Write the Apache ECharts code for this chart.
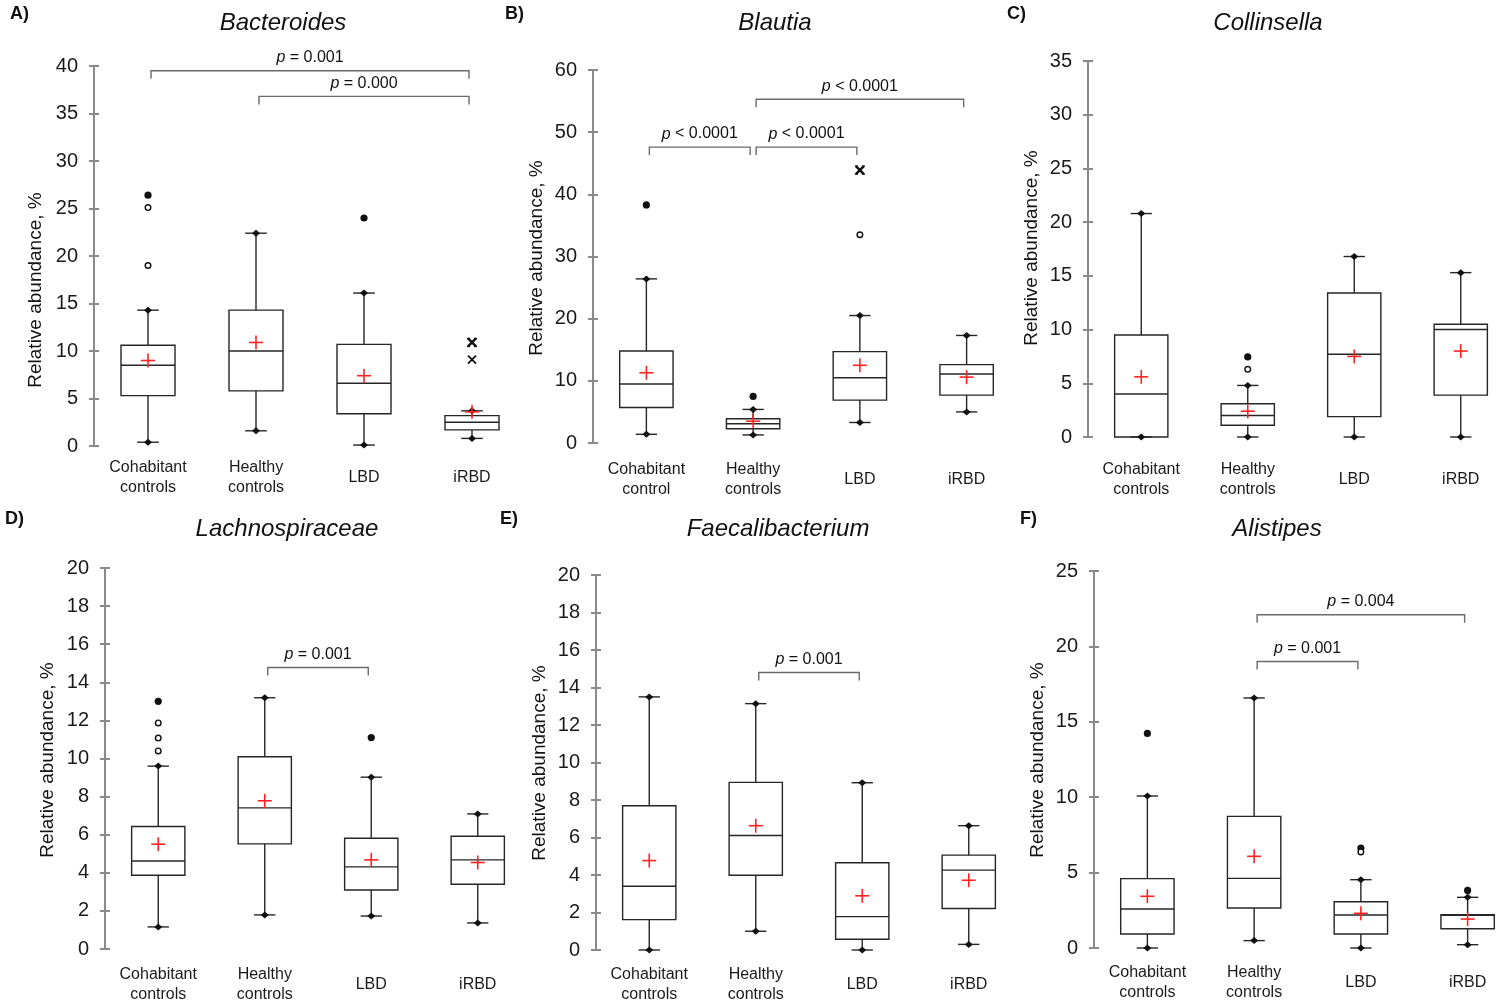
<!DOCTYPE html>
<html>
<head>
<meta charset="utf-8">
<title>Relative abundance by group</title>
<script src="https://cdn.jsdelivr.net/npm/echarts@6/dist/echarts.min.js"></script>
<style>
html,body{margin:0;padding:0;background:#fff;}
#chart{width:1500px;height:1008px;}
</style>
</head>
<body>
<div id="chart"></div>
<script>
var FONT = '"Liberation Sans", Arial, Helvetica, sans-serif';

var groupNames = ['Cohabitant\ncontrols', 'Healthy\ncontrols', 'LBD', 'iRBD'];
var groupNamesB = ['Cohabitant\ncontrol', 'Healthy\ncontrols', 'LBD', 'iRBD'];

// box stats per group: [low whisker, Q1, median, Q3, high whisker, mean]
// outliers: [group, value, kind]
// brackets: [from group, to group, y, operator, p value]

var bacteroidesStats = [
	[0.4, 5.3, 8.5, 10.6, 14.3, 9.0],
	[1.6, 5.8, 10.0, 14.3, 22.4, 10.9],
	[0.1, 3.4, 6.6, 10.7, 16.1, 7.4],
	[0.8, 1.7, 2.5, 3.2, 3.7, 3.6]
];
var bacteroidesOutliers = [[0, 26.4, 'filled'], [0, 25.1, 'open'], [0, 19.0, 'open'], [2, 24.0, 'filled'], [3, 10.9, 'star'], [3, 9.1, 'cross']];
var bacteroidesP = [[0, 3, 39.5, '=', '0.001'], [1, 3, 36.8, '=', '0.000']];

var blautiaStats = [
	[1.4, 5.7, 9.5, 14.8, 26.4, 11.3],
	[1.3, 2.3, 3.1, 3.9, 5.4, 3.5],
	[3.3, 6.9, 10.5, 14.7, 20.5, 12.5],
	[5.0, 7.7, 11.1, 12.6, 17.3, 10.6]
];
var blautiaOutliers = [[0, 38.3, 'filled'], [1, 7.5, 'filled'], [2, 43.9, 'star'], [2, 33.5, 'open']];
var blautiaP = [[0, 1, 47.6, '<', '0.0001'], [1, 2, 47.6, '<', '0.0001'], [1, 3, 55.3, '<', '0.0001']];

var collinsellaStats = [
	[0, 0, 4.0, 9.5, 20.8, 5.6],
	[0, 1.1, 2.0, 3.1, 4.8, 2.4],
	[0, 1.9, 7.7, 13.4, 16.8, 7.5],
	[0, 3.9, 10.0, 10.5, 15.3, 8.0]
];
var collinsellaOutliers = [[1, 7.45, 'filled'], [1, 6.3, 'open']];
var collinsellaP = [];

var lachnoStats = [
	[1.16, 3.87, 4.62, 6.43, 9.6, 5.5],
	[1.79, 5.52, 7.41, 10.09, 13.19, 7.78],
	[1.73, 3.1, 4.31, 5.81, 9.02, 4.68],
	[1.37, 3.4, 4.68, 5.92, 7.09, 4.54]
];
var lachnoOutliers = [[0, 13.0, 'filled'], [0, 11.87, 'open'], [0, 11.07, 'open'], [0, 10.4, 'open'], [2, 11.1, 'filled']];
var lachnoP = [[1, 2, 14.78, '=', '0.001']];

var faecaliStats = [
	[0, 1.62, 3.4, 7.69, 13.5, 4.77],
	[1.0, 3.99, 6.11, 8.94, 13.14, 6.63],
	[0, 0.57, 1.78, 4.65, 8.92, 2.89],
	[0.3, 2.21, 4.26, 5.06, 6.63, 3.72]
];
var faecaliOutliers = [];
var faecaliP = [[1, 2, 14.8, '=', '0.001']];

var alistipesStats = [
	[0, 0.93, 2.59, 4.6, 10.08, 3.43],
	[0.49, 2.65, 4.62, 8.73, 16.58, 6.08],
	[0, 0.93, 2.19, 3.07, 4.53, 2.3],
	[0.22, 1.28, 2.17, 2.21, 3.36, 1.92]
];
var alistipesOutliers = [[0, 14.23, 'filled'], [2, 6.63, 'filled'], [2, 6.37, 'open'], [3, 3.82, 'filled']];
var alistipesP = [[1, 3, 22.1, '=', '0.004'], [1, 2, 19.0, '=', '0.001']];

var kindCode = {filled: 0, open: 1, star: 2, cross: 3};

var panels = [
	{letter: 'A)', title: 'Bacteroides', cats: groupNames, stats: bacteroidesStats, outliers: bacteroidesOutliers, brackets: bacteroidesP,
		max: 40, step: 5, grid: [94, 66, 432, 380], letterPos: [10, 15], titlePos: [283, 23], namePos: [36, 290], labelMargin: 32},
	{letter: 'B)', title: 'Blautia', cats: groupNamesB, stats: blautiaStats, outliers: blautiaOutliers, brackets: blautiaP,
		max: 60, step: 10, grid: [593, 70, 427, 373], letterPos: [505, 15], titlePos: [775, 23], namePos: [537, 258], labelMargin: 37},
	{letter: 'C)', title: 'Collinsella', cats: groupNames, stats: collinsellaStats, outliers: collinsellaOutliers, brackets: collinsellaP,
		max: 35, step: 5, grid: [1088, 61, 426, 376], letterPos: [1007, 15], titlePos: [1268, 23], namePos: [1032, 248], labelMargin: 43},
	{letter: 'D)', title: 'Lachnospiraceae', cats: groupNames, stats: lachnoStats, outliers: lachnoOutliers, brackets: lachnoP,
		max: 20, step: 2, grid: [105, 568, 426, 381], letterPos: [5, 520], titlePos: [287, 529], namePos: [48, 760], labelMargin: 36},
	{letter: 'E)', title: 'Faecalibacterium', cats: groupNames, stats: faecaliStats, outliers: faecaliOutliers, brackets: faecaliP,
		max: 20, step: 2, grid: [596, 575, 426, 375], letterPos: [500, 520], titlePos: [778, 529], namePos: [540, 763], labelMargin: 35},
	{letter: 'F)', title: 'Alistipes', cats: groupNames, stats: alistipesStats, outliers: alistipesOutliers, brackets: alistipesP,
		max: 25, step: 5, grid: [1094, 571, 427, 377], letterPos: [1020, 520], titlePos: [1277, 529], namePos: [1038, 760], labelMargin: 35}
];

function seg(x1, y1, x2, y2, st) {
	return {type: 'line', shape: {x1: x1, y1: y1, x2: x2, y2: y2}, style: st};
}

function boxItem(params, api) {
	var idx = api.value(0);
	var low = api.coord([idx, api.value(1)]);
	var q1 = api.coord([idx, api.value(2)]);
	var med = api.coord([idx, api.value(3)]);
	var q3 = api.coord([idx, api.value(4)]);
	var high = api.coord([idx, api.value(5)]);
	var mean = api.coord([idx, api.value(6)]);
	var band = api.size([1, 0])[0];
	var cx = low[0], hw = band * 0.25, cw = band * 0.1;
	var ln = {stroke: '#262626', lineWidth: 1.4};
	var red = {stroke: '#ff2222', lineWidth: 1.6};
	function diamond(y) {
		return {type: 'polygon', shape: {points: [[cx, y - 3.5], [cx + 4, y], [cx, y + 3.5], [cx - 4, y]]}, style: {fill: '#111'}};
	}
	return {type: 'group', children: [
		seg(cx, q3[1], cx, high[1], ln),
		seg(cx, q1[1], cx, low[1], ln),
		seg(cx - cw, high[1], cx + cw, high[1], ln),
		seg(cx - cw, low[1], cx + cw, low[1], ln),
		{type: 'rect', shape: {x: cx - hw, y: q3[1], width: 2 * hw, height: q1[1] - q3[1]}, style: {fill: 'none', stroke: '#262626', lineWidth: 1.4}},
		seg(cx - hw, med[1], cx + hw, med[1], ln),
		diamond(high[1]),
		diamond(low[1]),
		seg(cx - 7, mean[1], cx + 7, mean[1], red),
		seg(cx, mean[1] - 7, cx, mean[1] + 7, red)
	]};
}

function outlierItem(params, api) {
	var p = api.coord([api.value(0), api.value(1)]);
	var k = api.value(2);
	var x = p[0], y = p[1];
	if (k === 0) return {type: 'circle', shape: {cx: x, cy: y, r: 3.6}, style: {fill: '#111'}};
	if (k === 1) return {type: 'circle', shape: {cx: x, cy: y, r: 2.8}, style: {fill: '#fff', stroke: '#111', lineWidth: 1.4}};
	var st = {stroke: '#111', lineWidth: k === 2 ? 2.4 : 1.8};
	var kids = [seg(x - 4, y - 4, x + 4, y + 4, st), seg(x - 4, y + 4, x + 4, y - 4, st)];
	if (k === 2) {
		var thin = {stroke: '#111', lineWidth: 1.4};
		kids.push(seg(x - 5, y - 4, x - 2, y - 4, thin));
		kids.push(seg(x + 2, y - 4, x + 5, y - 4, thin));
		kids.push(seg(x - 5, y + 4, x - 2, y + 4, thin));
		kids.push(seg(x + 2, y + 4, x + 5, y + 4, thin));
	}
	return {type: 'group', children: kids};
}

function bracketItem(labels) {
	return function (params, api) {
		var a = api.coord([api.value(0), api.value(1)]);
		var b = api.coord([api.value(2), api.value(1)]);
		var x1 = a[0] + 3, x2 = b[0] - 3, y = a[1];
		var lab = labels[params.dataIndex];
		return {type: 'group', children: [
			{type: 'polyline', shape: {points: [[x1, y + 8], [x1, y], [x2, y], [x2, y + 8]]}, style: {stroke: '#6b6b6b', lineWidth: 1.4, fill: 'none'}},
			{type: 'text', x: (x1 + x2) / 2, y: y - 13, style: {
				text: '{i|p} ' + lab[0] + ' ' + lab[1],
				fill: '#111', fontSize: 16, fontFamily: FONT,
				align: 'center', verticalAlign: 'middle', textAlign: 'center', textVerticalAlign: 'middle',
				rich: {i: {fontStyle: 'italic', fontSize: 16, fontFamily: FONT, fill: '#111'}}
			}}
		]};
	};
}

var option = {
	animation: false,
	backgroundColor: '#fff',
	grid: [], xAxis: [], yAxis: [], series: [], graphic: []
};

var axisGray = '#8a8a8a';

panels.forEach(function (pn, i) {
	option.grid.push({left: pn.grid[0], top: pn.grid[1], width: pn.grid[2], height: pn.grid[3], containLabel: false, outerBoundsMode: 'none'});
	option.xAxis.push({
		type: 'category', gridIndex: i, data: pn.cats,
		axisLine: {show: false}, axisTick: {show: false}, splitLine: {show: false},
		axisLabel: {interval: 0, color: '#1a1a1a', fontSize: 16, fontFamily: FONT, lineHeight: 20, margin: pn.labelMargin, verticalAlign: 'middle'}
	});
	option.yAxis.push({
		type: 'value', gridIndex: i, position: 'left', min: 0, max: pn.max, interval: pn.step,
		axisLine: {show: true, lineStyle: {color: axisGray, width: 2}},
		axisTick: {show: true, length: 5, lineStyle: {color: axisGray, width: 2}},
		axisLabel: {color: '#1a1a1a', fontSize: 20, fontFamily: FONT, margin: 16},
		splitLine: {show: false}
	});
	option.yAxis.push({
		type: 'value', gridIndex: i, position: 'left', min: 0, max: pn.max, interval: pn.step,
		axisLine: {show: false},
		axisTick: {show: true, inside: true, length: 5, lineStyle: {color: axisGray, width: 2}},
		axisLabel: {show: false},
		splitLine: {show: false}
	});

	option.series.push({
		type: 'custom', xAxisIndex: i, yAxisIndex: 2 * i, renderItem: boxItem, clip: false, silent: true,
		encode: {x: 0, y: 1},
		data: pn.stats.map(function (s, j) { return [j].concat(s); })
	});
	option.series.push({
		type: 'custom', xAxisIndex: i, yAxisIndex: 2 * i, renderItem: outlierItem, clip: false, silent: true,
		encode: {x: 0, y: 1},
		data: pn.outliers.map(function (o) { return [o[0], o[1], kindCode[o[2]]]; })
	});
	option.series.push({
		type: 'custom', xAxisIndex: i, yAxisIndex: 2 * i, clip: false, silent: true,
		renderItem: bracketItem(pn.brackets.map(function (b) { return [b[3], b[4]]; })),
		encode: {x: 0, y: 1},
		data: pn.brackets.map(function (b) { return [b[0], b[2], b[1]]; })
	});

	option.graphic.push({
		type: 'text', left: pn.letterPos[0], top: pn.letterPos[1] - 10,
		style: {text: pn.letter, fill: '#111', fontSize: 18, fontWeight: 'bold', fontFamily: FONT}
	});
	option.graphic.push({
		type: 'text', x: pn.titlePos[0], y: pn.titlePos[1],
		style: {text: pn.title, fill: '#111', fontSize: 24, fontStyle: 'italic', fontFamily: FONT,
			align: 'center', verticalAlign: 'middle', textAlign: 'center', textVerticalAlign: 'middle'}
	});
	option.graphic.push({
		type: 'text', x: pn.namePos[0], y: pn.namePos[1], rotation: Math.PI / 2,
		style: {text: 'Relative abundance, %', fill: '#111', fontSize: 19, fontFamily: FONT,
			align: 'center', verticalAlign: 'middle', textAlign: 'center', textVerticalAlign: 'middle'}
	});
});

var myChart = echarts.init(document.getElementById('chart'));
myChart.setOption(option);
</script>
</body>
</html>
